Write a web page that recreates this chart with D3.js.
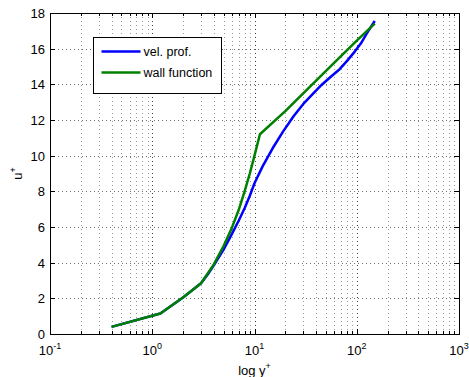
<!DOCTYPE html>
<html>
  <head>
    <meta charset="utf-8">
    <title>Velocity profile vs wall function</title>
    <script src="https://d3js.org/d3.v7.min.js"></script>
    <style>
      body { margin: 0; background: #fff; }
      text { font-family: "Liberation Sans", Arial, sans-serif; }
    </style>
  </head>
  <body>
    <div id="chart"></div>

    <script>
      // values (y+, u+)
      const velYPlus = [0.4, 1.2, 2, 3, 3.5, 4, 5, 6, 7, 8, 9, 10, 12, 15, 19, 24, 30, 37, 45, 55, 68, 80, 96, 110, 125, 150];
      const velUPlus = [0.4, 1.15, 2.05, 2.85, 3.35, 3.85, 4.75, 5.6, 6.35, 7.05, 7.75, 8.45, 9.4, 10.4, 11.35, 12.2, 12.9, 13.45, 13.95, 14.4, 14.85, 15.3, 15.85, 16.3, 16.85, 17.55];
      const wallYPlus = [0.4, 1.2, 2, 3, 4, 5, 6, 7, 8, 9, 10, 11.3, 20, 50, 100, 150];
      const wallUPlus = [0.4, 1.15, 2.05, 2.85, 3.9, 4.95, 5.95, 6.95, 8.0, 9.0, 10.0, 11.2, 12.5, 14.75, 16.45, 17.4];
      const seriesNames = ['vel. prof.', 'wall function'];
      const seriesColors = ['#0000ff', '#008000'];
      const xTickExps = [-1, 0, 1, 2, 3];
      const yTicks = [0, 2, 4, 6, 8, 10, 12, 14, 16, 18];

      const width = 469, height = 377;
      const m = { left: 50, right: 10, top: 13, bottom: 43 };

      const svg = d3.select('#chart')
        .append('svg')
        .attr('width', width)
        .attr('height', height);

      const x = d3.scaleLog().domain([0.1, 1000]).range([m.left, width - m.right]);
      const y = d3.scaleLinear().domain([0, 18]).range([height - m.bottom, m.top]);

      const x0 = m.left, x1 = width - m.right, y0 = height - m.bottom, y1 = m.top;

      // minor log positions
      const minors = [];
      xTickExps.slice(0, -1).forEach(e => {
        for (let k = 2; k <= 9; k++) minors.push(k * Math.pow(10, e));
      });
      const majors = xTickExps.map(e => Math.pow(10, e));

      const grid = svg.append('g')
        .attr('stroke', '#000')
        .attr('stroke-width', 1)
        .attr('stroke-dasharray', '1,3');

      // vertical grid
      grid.selectAll('line.vx')
        .data(minors.concat(majors.slice(1, -1)))
        .enter()
        .append('line')
        .attr('x1', d => Math.round(x(d)) + 0.5)
        .attr('x2', d => Math.round(x(d)) + 0.5)
        .attr('y1', y0)
        .attr('y2', y1)
        .attr('stroke-opacity', d => majors.includes(d) ? 0.75 : 0.4);

      // horizontal grid
      grid.selectAll('line.hy')
        .data(yTicks.slice(1, -1))
        .enter()
        .append('line')
        .attr('x1', x0)
        .attr('x2', x1)
        .attr('y1', d => Math.round(y(d)) + 0.5)
        .attr('y2', d => Math.round(y(d)) + 0.5)
        .attr('stroke-opacity', 0.55);

      // ticks on all four sides
      const ticks = svg.append('g').attr('stroke', '#000').attr('stroke-width', 1);
      majors.forEach(d => {
        const px = Math.round(x(d)) + 0.5;
        ticks.append('line').attr('x1', px).attr('x2', px).attr('y1', y0).attr('y2', y0 - 5);
        ticks.append('line').attr('x1', px).attr('x2', px).attr('y1', y1).attr('y2', y1 + 5);
      });
      minors.forEach(d => {
        const px = Math.round(x(d)) + 0.5;
        ticks.append('line').attr('x1', px).attr('x2', px).attr('y1', y0).attr('y2', y0 - 3);
        ticks.append('line').attr('x1', px).attr('x2', px).attr('y1', y1).attr('y2', y1 + 3);
      });
      yTicks.forEach(d => {
        const py = Math.round(y(d)) + 0.5;
        ticks.append('line').attr('x1', x0).attr('x2', x0 + 5).attr('y1', py).attr('y2', py);
        ticks.append('line').attr('x1', x1).attr('x2', x1 - 5).attr('y1', py).attr('y2', py);
      });

      // frame
      svg.append('rect')
        .attr('x', x0 + 0.5)
        .attr('y', y1 + 0.5)
        .attr('width', x1 - x0)
        .attr('height', y0 - y1)
        .attr('fill', 'none')
        .attr('stroke', '#000')
        .attr('stroke-width', 1);

      // y tick labels
      svg.selectAll('text.yl')
        .data(yTicks)
        .enter()
        .append('text')
        .attr('x', x0 - 5)
        .attr('y', d => y(d) + 5)
        .attr('text-anchor', 'end')
        .attr('font-size', 13)
        .text(d => d);

      // x tick labels 10^n
      xTickExps.forEach(e => {
        const t = svg.append('text')
          .attr('x', x(Math.pow(10, e)))
          .attr('y', 355)
          .attr('text-anchor', 'middle')
          .attr('font-size', 13);
        t.append('tspan').text('10');
        t.append('tspan').attr('dy', -6).attr('font-size', 9).text(e);
      });

      // axis labels
      const xl = svg.append('text')
        .attr('x', x(10))
        .attr('y', 375)
        .attr('text-anchor', 'middle')
        .attr('font-size', 13);
      xl.append('tspan').text('log y');
      xl.append('tspan').attr('dy', -6).attr('font-size', 9).text('+');

      const yl = svg.append('text')
        .attr('transform', `translate(22,${(y0 + y1) / 2}) rotate(-90)`)
        .attr('text-anchor', 'middle')
        .attr('font-size', 13);
      yl.append('tspan').text('u');
      yl.append('tspan').attr('dy', -6).attr('font-size', 9).text('+');

      // curves
      const series = [
        d3.zip(velYPlus, velUPlus),
        d3.zip(wallYPlus, wallUPlus)
      ];
      const line = d3.line().x(d => x(d[0])).y(d => y(d[1]));

      svg.selectAll('path.curve')
        .data(series)
        .enter()
        .append('path')
        .attr('d', line)
        .attr('fill', 'none')
        .attr('stroke', (d, i) => seriesColors[i])
        .attr('stroke-width', 2.5)
        .attr('stroke-linejoin', 'round');

      // legend
      const lg = svg.append('g').attr('transform', 'translate(93.5,37.5)');
      lg.append('rect')
        .attr('width', 128)
        .attr('height', 56)
        .attr('fill', '#fff')
        .attr('stroke', '#000');
      seriesNames.forEach((name, i) => {
        const ly = 14 + i * 21;
        lg.append('line')
          .attr('x1', 8).attr('x2', 47)
          .attr('y1', ly).attr('y2', ly)
          .attr('stroke', seriesColors[i])
          .attr('stroke-width', 2.5);
        lg.append('text')
          .attr('x', 50)
          .attr('y', ly + 4.5)
          .attr('font-size', 12.5)
          .text(name);
      });
    </script>
  </body>
</html>
